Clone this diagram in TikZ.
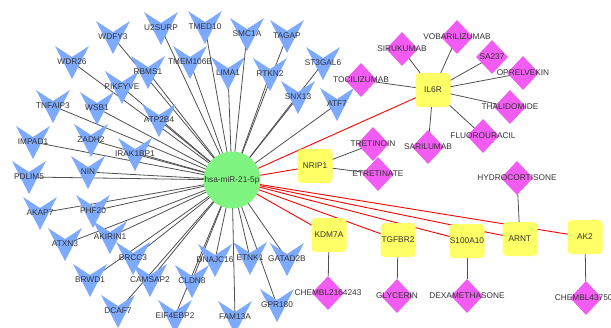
\documentclass[tikz,border=0pt]{standalone}
\usepackage{fontspec}
\setmainfont{Liberation Sans}
\usetikzlibrary{shapes.geometric}
\usetikzlibrary{backgrounds}
\definecolor{mirgreen}{RGB}{128,244,128}
\definecolor{geneblue}{RGB}{125,170,255}
\definecolor{drugpink}{RGB}{242,92,242}
\definecolor{tgtyellow}{RGB}{255,255,102}
\definecolor{linkgray}{RGB}{80,80,80}
\definecolor{labelgray}{RGB}{51,51,51}
\tikzset{x=1pt,y=-1pt,
    every node/.style={
        font=\fontsize{8.3}{9}\selectfont,
        text=labelgray,
        inner sep=0pt},
    mirna/.style={
        circle,
        fill=mirgreen,
        minimum size=57pt},
    gene/.style={
        minimum width=36pt,
        minimum height=36pt,
        path picture={\fill[geneblue]
            ([shift={(-17pt,16pt)}]path picture bounding box.center) --
            ([shift={(0pt,5pt)}]path picture bounding box.center) --
            ([shift={(17pt,16pt)}]path picture bounding box.center) --
            ([shift={(0pt,-17pt)}]path picture bounding box.center) -- cycle;}},
    target/.style={
        rounded corners=4pt,
        fill=tgtyellow,
        minimum width=35pt,
        minimum height=34pt},
    drug/.style={
        diamond,
        fill=drugpink,
        minimum width=32pt,
        minimum height=34pt},
    every edge/.style={
        draw,
        linkgray,
        line width=0.8pt},
    hit/.style={
        red,
        line width=0.9pt}}

\begin{document}
\begin{tikzpicture}
    \useasboundingbox (0,0) rectangle (611,327);

    % genes
    \node[gene] (wdfy3) at (113,37) {WDFY3};
    \node[gene] (wdr26) at (72,62) {WDR26};
    \node[gene] (pikfyve) at (122,87) {PIKFYVE};
    \node[gene] (tnfaip3) at (53,106) {TNFAIP3};
    \node[gene] (wsb1) at (97,108) {WSB1};
    \node[gene] (rbms1) at (148,72) {RBMS1};
    \node[gene] (u2surp) at (161,28) {U2SURP};
    \node[gene] (tmed10) at (205,27) {TMED10};
    \node[gene] (smc1a) at (247,34) {SMC1A};
    \node[gene] (tagap) at (287,36) {TAGAP};
    \node[gene] (tmem106b) at (190,62) {TMEM106B};
    \node[gene] (lima1) at (228,73) {LIMA1};
    \node[gene] (rtkn2) at (270,74) {RTKN2};
    \node[gene] (st3gal6) at (323,63) {ST3GAL6};
    \node[gene] (snx13) at (298,97) {SNX13};
    \node[gene] (atf7) at (337,104) {ATF7};
    \node[gene] (atp2b4) at (159,120) {ATP2B4};
    \node[gene] (impad1) at (33,142) {IMPAD1};
    \node[gene] (zadh2) at (91,140) {ZADH2};
    \node[gene] (irak1bp1) at (135,154) {IRAK1BP1};
    \node[gene] (pdlim5) at (29,177) {PDLIM5};
    \node[gene] (nin) at (88,172) {NIN};
    \node[gene] (akap7) at (40,213) {AKAP7};
    \node[gene] (phf20) at (93,211) {PHF20};
    \node[gene] (atxn3) at (65,244) {ATXN3};
    \node[gene] (akirin1) at (110,237) {AKIRIN1};
    \node[gene] (brcc3) at (133,258) {BRCC3};
    \node[gene] (brwd1) at (90,280) {BRWD1};
    \node[gene] (camsap2) at (150,280) {CAMSAP2};
    \node[gene] (dcaf7) at (118,311) {DCAF7};
    \node[gene] (eif4ebp2) at (175,316) {EIF4EBP2};
    \node[gene] (cldn8) at (192,281) {CLDN8};
    \node[gene] (dnajc16) at (215,260) {DNAJC16};
    \node[gene] (fam13a) at (235,317) {FAM13A};
    \node[gene] (etnk1) at (250,258) {ETNK1};
    \node[gene] (gatad2b) at (287,259) {GATAD2B};
    \node[gene] (gpr180) at (277,305) {GPR180};

    % miRNA
    \node[mirna] (mir21) at (232,180) {hsa-miR-21-5p};

    % targets
    \node[target] (il6r) at (433,90) {IL6R};
    \node[target] (nrip1) at (315,166) {NRIP1};
    \node[target] (kdm7a) at (329,235) {KDM7A};
    \node[target] (tgfbr2) at (398,240) {TGFBR2};
    \node[target] (s100a10) at (467,241) {S100A10};
    \node[target] (arnt) at (520,239) {ARNT};
    \node[target] (ak2) at (585,237) {AK2};

    % drugs
    \node[drug] (sirukumab) at (402,49) {\makebox[0pt]{SIRUKUMAB}};
    \node[drug] (vobarilizumab) at (457,37) {\makebox[0pt]{VOBARILIZUMAB}};
    \node[drug] (sa237) at (492,57) {\makebox[0pt]{SA237}};
    \node[drug] (oprelvekin) at (523,73) {\makebox[0pt]{OPRELVEKIN}};
    \node[drug] (thalidomide) at (510,107) {\makebox[0pt]{THALIDOMIDE}};
    \node[drug] (tocilizumab) at (361,80) {\makebox[0pt]{TOCILIZUMAB}};
    \node[drug] (fluorouracil) at (483,136) {\makebox[0pt]{FLUOROURACIL}};
    \node[drug] (sarilumab) at (428,147) {\makebox[0pt]{SARILUMAB}};
    \node[drug] (tretinoin) at (373,144) {\makebox[0pt]{TRETINOIN}};
    \node[drug] (etretinate) at (378,174) {\makebox[0pt]{ETRETINATE}};
    \node[drug] (hydrocortisone) at (517,178) {\makebox[0pt]{HYDROCORTISONE}};
    \node[drug] (chembl2164243) at (328,293) {\makebox[0pt]{CHEMBL2164243}};
    \node[drug] (glycerin) at (397,296) {\makebox[0pt]{GLYCERIN}};
    \node[drug] (dexamethasone) at (467,296) {\makebox[0pt]{DEXAMETHASONE}};
    \node[drug] (chembl43750) at (586,298) {\makebox[0pt]{CHEMBL43750\phantom{0}}};

    \begin{pgfonlayer}{background}
        \path (mir21.center) edge (wdfy3.center) edge (wdr26.center) edge (pikfyve.center)
            edge (tnfaip3.center) edge (wsb1.center) edge (rbms1.center) edge (u2surp.center)
            edge (tmed10.center) edge (smc1a.center) edge (tagap.center) edge (tmem106b.center)
            edge (lima1.center) edge (rtkn2.center) edge (st3gal6.center) edge (snx13.center)
            edge (atf7.center) edge (atp2b4.center) edge (impad1.center) edge (zadh2.center)
            edge (irak1bp1.center) edge (pdlim5.center) edge (nin.center) edge (akap7.center)
            edge (phf20.center) edge (atxn3.center) edge (akirin1.center) edge (brcc3.center)
            edge (brwd1.center) edge (camsap2.center) edge (dcaf7.center) edge (eif4ebp2.center)
            edge (cldn8.center) edge (dnajc16.center) edge (fam13a.center) edge (etnk1.center)
            edge (gatad2b.center) edge (gpr180.center);
        \path (mir21.center) edge[hit] (il6r.center) edge[hit] (nrip1.center)
            edge[hit] (kdm7a.center) edge[hit] (tgfbr2.center) edge[hit] (s100a10.center)
            edge[hit] (arnt.center) edge[hit] (ak2.center);
        \path (il6r.center) edge (sirukumab.center) edge (vobarilizumab.center)
            edge (sa237.center) edge (oprelvekin.center) edge (thalidomide.center)
            edge (tocilizumab.center) edge (fluorouracil.center) edge (sarilumab.center);
        \path (nrip1.center) edge (tretinoin.center) edge (etretinate.center);
        \path (kdm7a) edge (chembl2164243);
        \path (tgfbr2) edge (glycerin);
        \path (s100a10) edge (dexamethasone);
        \path (arnt) edge (hydrocortisone);
        \path (ak2) edge (chembl43750);
    \end{pgfonlayer}
\end{tikzpicture}
\end{document}
